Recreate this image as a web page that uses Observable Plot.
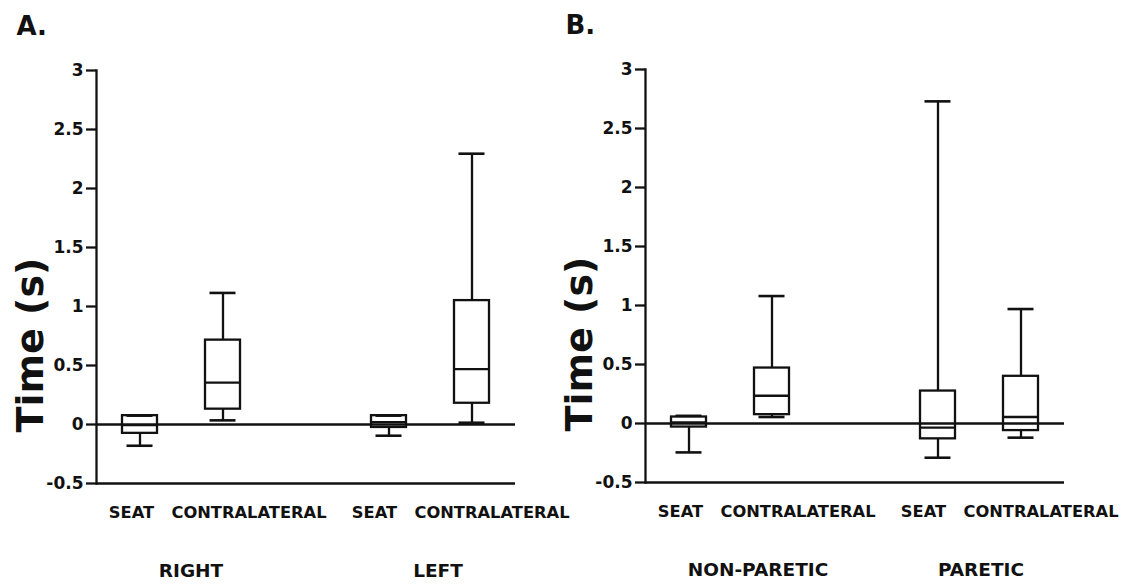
<!DOCTYPE html>
<html>
<head>
<meta charset="utf-8">
<script src="https://cdn.jsdelivr.net/npm/d3@7"></script>
<script src="https://cdn.jsdelivr.net/npm/@observablehq/plot@0.6"></script>
<style>
  body { margin: 0; background: #fff; }
  #chart { position: relative; width: 1137px; height: 584px; overflow: hidden; background: #fff; }
  #chart svg { position: absolute; top: 0; overflow: visible; background: transparent; }
</style>
</head>
<body>
<div id="chart"></div>
<script>
// Box-plot summaries of timing (s); order within a panel:
// group 1 SEAT, group 1 CONTRALATERAL, group 2 SEAT, group 2 CONTRALATERAL
const conditions = ["SEAT", "CONTRALATERAL"];
const yTicks = [-0.5, 0, 0.5, 1, 1.5, 2, 2.5, 3];

const groupsA = ["RIGHT", "LEFT"];
const minA = [-0.18, 0.035, -0.095, 0.015];
const q1A  = [-0.075, 0.13, -0.025, 0.18];
const medA = [-0.005, 0.355, 0.02, 0.47];
const q3A  = [0.075, 0.715, 0.075, 1.05];
const maxA = [0.075, 1.115, 0.075, 2.295];

const groupsB = ["NON-PARETIC", "PARETIC"];
const minB = [-0.245, 0.055, -0.29, -0.12];
const q1B  = [-0.03, 0.075, -0.13, -0.06];
const medB = [0.01, 0.235, -0.035, 0.055];
const q3B  = [0.055, 0.47, 0.275, 0.40];
const maxB = [0.065, 1.08, 2.73, 0.97];

function rowsOf(groups, mins, q1s, meds, q3s, maxs) {
  const rows = [];
  groups.forEach((g, gi) => conditions.forEach((c, ci) => {
    const i = gi * conditions.length + ci;
    rows.push({group: g, gi, cond: c, key: `${g}|${c}`,
      min: mins[i], q1: q1s[i], med: meds[i], q3: q3s[i], max: maxs[i]});
  }));
  return rows;
}

function panel({letter, groups, rows, width, marginRight, marginTop, marginBottom, groupDx}) {
  // five slots: two boxes, an empty spacer, two boxes
  const domain = [rows[0].key, rows[1].key, "spacer", rows[2].key, rows[3].key];
  const lw = 2.3;
  const ink = "#111";
  const marks = [
    Plot.ruleY([0], {stroke: ink, strokeWidth: lw}),
    Plot.ruleY([-0.5], {stroke: ink, strokeWidth: lw}),
    Plot.frame({anchor: "left", stroke: ink, strokeWidth: lw}),
    Plot.axisY(yTicks, {
      tickSize: 10, tickPadding: 3, tickFormat: d => String(d),
      fontSize: 17, fontWeight: "bold", strokeWidth: lw, label: null
    }),
    // whiskers
    Plot.ruleX(rows, {x: "key", y1: "q3", y2: "max", stroke: ink, strokeWidth: lw}),
    Plot.ruleX(rows, {x: "key", y1: "min", y2: "q1", stroke: ink, strokeWidth: lw}),
    Plot.tickY(rows, {x: "key", y: "max", insetLeft: 4.5, insetRight: 4.5, stroke: ink, strokeWidth: 2.6}),
    Plot.tickY(rows, {x: "key", y: "min", insetLeft: 4.5, insetRight: 4.5, stroke: ink, strokeWidth: 2.6}),
    // boxes and medians
    Plot.barY(rows, {x: "key", y1: "q1", y2: "q3", fill: "none", stroke: ink, strokeWidth: lw}),
    Plot.tickY(rows, {x: "key", y: "med", stroke: ink, strokeWidth: lw}),
    // panel letter and y label
    Plot.text([letter], {frameAnchor: "top-left", textAnchor: "start", lineAnchor: "bottom",
      dx: -80, dy: -36, fontSize: 26, fontWeight: "bold"}),
    Plot.text(["Time (s)"], {frameAnchor: "left", textAnchor: "middle", lineAnchor: "middle",
      rotate: -90, dx: -66, dy: 68, fontSize: 38, fontWeight: "bold"})
  ];
  // condition labels under each box, group labels beneath
  groups.forEach((g, gi) => {
    const seat = rows.filter(d => d.gi === gi && d.cond === "SEAT");
    const contra = rows.filter(d => d.gi === gi && d.cond === "CONTRALATERAL");
    marks.push(
      Plot.text(seat, {x: "key", text: "cond", frameAnchor: "bottom", lineAnchor: "bottom",
        dy: 34, dx: -8.5 - 6 * gi, fontSize: 16.3, fontWeight: "bold"}),
      Plot.text(contra, {x: "key", text: "cond", frameAnchor: "bottom", lineAnchor: "bottom",
        dy: 34, dx: 26 - 6 * gi, fontSize: 16.3, fontWeight: "bold"}),
      Plot.text(seat, {x: "key", text: "group", frameAnchor: "bottom", lineAnchor: "bottom",
        dy: 93, dx: groupDx[gi], fontSize: 18.5, fontWeight: "bold"})
    );
  });
  return Plot.plot({
    width, height: 584,
    marginLeft: 96, marginRight, marginTop, marginBottom,
    style: {fontFamily: "'DejaVu Sans', Verdana, sans-serif", background: "transparent", color: ink, overflow: "visible"},
    x: {domain, paddingInner: 0.58, paddingOuter: 0.29, axis: null},
    y: {domain: [-0.5, 3], axis: null},
    marks
  });
}

const chart = document.getElementById("chart");
const a = panel({letter: "A.", groups: groupsA, rows: rowsOf(groupsA, minA, q1A, medA, q3A, maxA),
  width: 549, marginRight: 34, marginTop: 70, marginBottom: 101, groupDx: [51, 49]});
a.style.left = "0px";
const b = panel({letter: "B.", groups: groupsB, rows: rowsOf(groupsB, minB, q1B, medB, q3B, maxB),
  width: 588, marginRight: 73, marginTop: 69, marginBottom: 102, groupDx: [69, 43]});
b.style.left = "549px";
chart.append(a, b);
</script>
</body>
</html>
